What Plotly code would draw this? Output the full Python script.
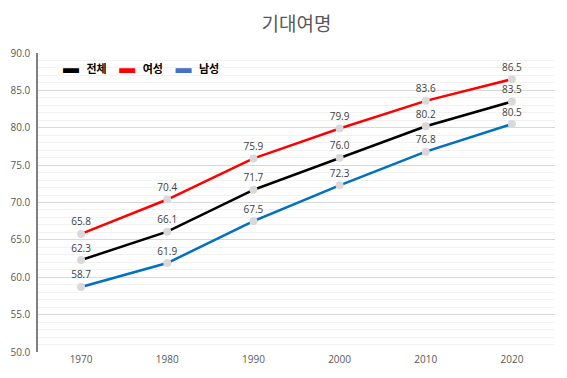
import plotly.graph_objects as go

years = ["1970", "1980", "1990", "2000", "2010", "2020"]
total = [62.3, 66.1, 71.7, 76.0, 80.2, 83.5]
female = [65.8, 70.4, 75.9, 79.9, 83.6, 86.5]
male = [58.7, 61.9, 67.5, 72.3, 76.8, 80.5]
series_names = ["전체", "여성", "남성"]
yticks = [50, 55, 60, 65, 70, 75, 80, 85, 90]

line_colors = ["#000000", "#FF0000", "#0070C0"]
legend_colors = ["#000000", "#FF0000", "#4472C4"]

fig = go.Figure()
for name, vals, lc in zip(series_names, [total, female, male], line_colors):
    fig.add_trace(go.Scatter(
        x=years, y=vals, mode="lines+markers+text", name=name,
        line=dict(color=lc, width=2.5),
        marker=dict(color="#D9D9D9", size=8),
        text=[f"{v:.1f}" for v in vals], textposition="top center",
        textfont=dict(size=10, color="#404040", family="Open Sans, sans-serif"),
        showlegend=False, cliponaxis=False,
    ))

legend_text = "&nbsp;&nbsp;&nbsp;&nbsp;&nbsp;".join(
    f"<span style='color:{c};font-size:16px'>▬</span>&nbsp;&nbsp;&nbsp;{n}"
    for n, c in zip(series_names, legend_colors)
)
fig.add_annotation(
    text=f"<b>{legend_text}</b>", xref="paper", yref="paper", x=0.045, y=0.957,
    xanchor="left", yanchor="middle", showarrow=False,
    font=dict(size=11, color="#000000", family="Noto Sans CJK KR, sans-serif"),
)

fig.update_layout(
    width=559, height=370,
    margin=dict(l=30, r=12, t=45, b=26),
    paper_bgcolor="white", plot_bgcolor="white", showlegend=False,
    title=dict(text="기대여명", x=0.5, xref="paper", xanchor="center", yref="container",
               y=0.957, yanchor="middle",
               font=dict(size=19, color="#595959", family="Noto Sans CJK KR, sans-serif")),
    xaxis=dict(type="category", range=[-0.5, 5.5], showgrid=False, showline=False,
               ticks="", automargin=False,
               tickfont=dict(size=10, color="#595959", family="Open Sans, sans-serif")),
    yaxis=dict(range=[50, 90], tickvals=yticks, ticktext=[f"{v:.1f}" for v in yticks],
               showgrid=True, gridcolor="#D9D9D9", gridwidth=1,
               minor=dict(dtick=1, showgrid=True, gridcolor="#F2F2F2", gridwidth=1),
               showline=True, linecolor="#808080", linewidth=1.5, zeroline=False,
               ticks="", automargin=False, ticklabelstandoff=4,
               tickfont=dict(size=10, color="#595959", family="Open Sans, sans-serif")),
)

fig.write_html("out.html")
